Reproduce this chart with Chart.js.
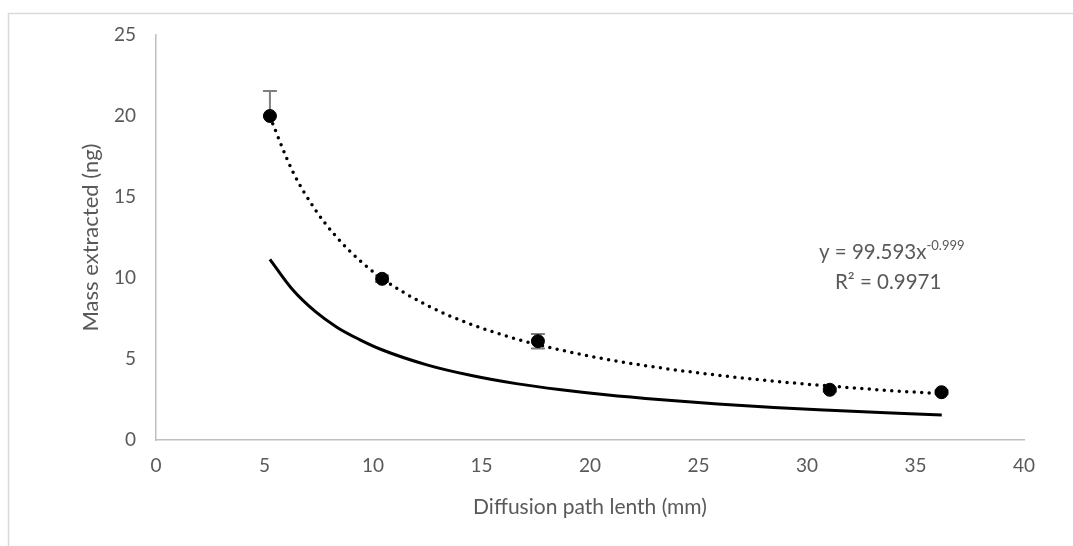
<!DOCTYPE html>
<html>
<head>
<meta charset="utf-8">
<script src="https://cdn.jsdelivr.net/npm/chart.js@4"></script>
<style>
    body { margin: 0; background: #fff; }
    #wrap { width: 1073px; height: 546px; }
</style>
</head>
<body>
<div id="wrap"><canvas id="myChart" width="1073" height="546"></canvas></div>
<script>
// datos medidos (puntos con barras de error), leidos sobre el eje del grafico
const distancias = [5.25, 10.42, 17.6, 31.05, 36.2];
const masas = [20.0, 9.95, 6.1, 3.1, 2.95];
const errorArriba = [1.55, 0.2, 0.45, 0.1, 0.1];
const errorAbajo = [0, 0.2, 0.45, 0.1, 0.1];

// linea de tendencia punteada
const tendenciaX = [5.25, 6.28, 7.32, 8.35, 9.38, 10.41, 12.48, 14.54, 16.6, 18.67, 20.73, 23.31, 25.89, 28.47, 31.05, 33.63, 36.21];
const tendenciaY = [19.95, 16.63, 14.26, 12.48, 11.09, 9.98, 8.32, 7.13, 6.24, 5.55, 4.99, 4.44, 4.0, 3.63, 3.33, 3.07, 2.85];

// curva continua
const curvaX = [5.25, 6.28, 7.32, 8.35, 9.38, 10.41, 12.48, 14.54, 16.6, 18.67, 20.73, 23.31, 25.89, 28.47, 31.05, 33.63, 36.21];
const curvaY = [11.15, 9.3, 7.95, 6.95, 6.2, 5.57, 4.64, 3.98, 3.48, 3.1, 2.79, 2.48, 2.22, 2.0, 1.83, 1.68, 1.55];

const ticksX = [0, 5, 10, 15, 20, 25, 30, 35, 40];
const ticksY = [0, 5, 10, 15, 20, 25];

const fuente = 'Lato, "Open Sans", sans-serif';
const gris = '#595959';

function pares(xs, ys) {
    return xs.map((x, i) => ({ x: x, y: ys[i] }));
}

// marco exterior del grafico
const marco = {
    id: 'marco',
    beforeDraw(chart) {
        const ctx = chart.ctx;
        ctx.save();
        ctx.strokeStyle = '#d9d9d9';
        ctx.lineWidth = 1.5;
        ctx.strokeRect(8.5, 13.5, 1200, 600);
        ctx.restore();
    }
};

// barras de error
const barrasError = {
    id: 'barrasError',
    beforeDatasetsDraw(chart) {
        const ctx = chart.ctx;
        const sx = chart.scales.x;
        const sy = chart.scales.y;
        ctx.save();
        ctx.strokeStyle = '#7f7f7f';
        ctx.lineWidth = 2;
        distancias.forEach((d, i) => {
            const px = sx.getPixelForValue(d);
            const arriba = sy.getPixelForValue(masas[i] + errorArriba[i]);
            const abajo = sy.getPixelForValue(masas[i] - errorAbajo[i]);
            ctx.beginPath();
            ctx.moveTo(px, arriba);
            ctx.lineTo(px, abajo);
            if (errorArriba[i] > 0) {
                ctx.moveTo(px - 7, arriba);
                ctx.lineTo(px + 7, arriba);
            }
            if (errorAbajo[i] > 0) {
                ctx.moveTo(px - 7, abajo);
                ctx.lineTo(px + 7, abajo);
            }
            ctx.stroke();
        });
        ctx.restore();
    }
};

// ecuacion de la tendencia
const ecuacion = {
    id: 'ecuacion',
    afterDraw(chart) {
        const ctx = chart.ctx;
        ctx.save();
        ctx.fillStyle = gris;
        ctx.textBaseline = 'alphabetic';
        ctx.font = '20.5px ' + fuente;
        const base = 'y = 99.593x';
        ctx.fillText(base, 819, 259);
        const w = ctx.measureText(base).width;
        ctx.font = '13px ' + fuente;
        ctx.fillText('-0.999', 819 + w, 250);
        ctx.font = '20.5px ' + fuente;
        ctx.fillText('R² = 0.9971', 835, 289);
        ctx.restore();
    }
};

const ctx = document.getElementById('myChart').getContext('2d');

new Chart(ctx, {
    type: 'scatter',
    data: {
        datasets: [
            {
                label: 'curva',
                data: pares(curvaX, curvaY),
                showLine: true,
                borderColor: '#000',
                borderWidth: 3,
                pointRadius: 0,
                cubicInterpolationMode: 'monotone'
            },
            {
                label: 'tendencia',
                data: pares(tendenciaX, tendenciaY),
                showLine: true,
                borderColor: '#000',
                borderWidth: 3.5,
                borderDash: [0, 7.5],
                borderCapStyle: 'round',
                pointRadius: 0,
                cubicInterpolationMode: 'monotone'
            },
            {
                label: 'medido',
                data: pares(distancias, masas),
                backgroundColor: '#000',
                borderColor: '#000',
                pointRadius: 6.5,
                showLine: false
            }
        ]
    },
    options: {
        responsive: false,
        animation: false,
        layout: { padding: { left: 74, right: 49, top: 35, bottom: 22 } },
        plugins: {
            legend: { display: false },
            tooltip: { enabled: false }
        },
        scales: {
            x: {
                type: 'linear',
                min: 0,
                max: 40,
                grid: { display: false, drawTicks: false },
                border: { color: '#bfbfbf', width: 1.5 },
                afterBuildTicks(scale) { scale.ticks = ticksX.map(v => ({ value: v })); },
                ticks: { color: gris, font: { family: fuente, size: 19 }, padding: 14 },
                title: { display: true, text: 'Diffusion path lenth (mm)', color: gris, font: { family: fuente, size: 21 } },
                afterFit(scale) { scale.height = 84; }
            },
            y: {
                min: 0,
                max: 25,
                grid: { display: false, drawTicks: false },
                border: { color: '#bfbfbf', width: 1.5 },
                afterBuildTicks(scale) { scale.ticks = ticksY.map(v => ({ value: v })); },
                ticks: { color: gris, font: { family: fuente, size: 19 }, padding: 20 },
                title: { display: true, text: 'Mass extracted (ng)', color: gris, font: { family: fuente, size: 22 } },
                afterFit(scale) { scale.width = 82; }
            }
        }
    },
    plugins: [marco, barrasError, ecuacion]
});
</script>
</body>
</html>
